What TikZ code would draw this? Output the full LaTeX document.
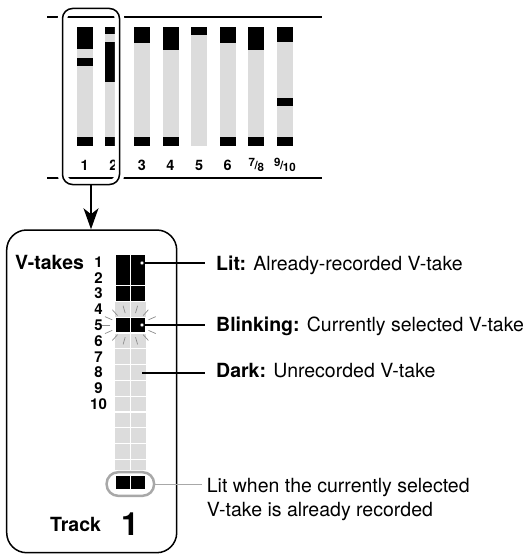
\documentclass[tikz,border=0pt]{standalone}
\usepackage{fontspec}
\setmainfont{TeX Gyre Heros}
\usetikzlibrary{arrows.meta}
\definecolor{ledgray}{HTML}{DCDCDC}
\definecolor{rimgray}{HTML}{A8A8A8}
\definecolor{raygray}{HTML}{8C8C8C}
\newcommand{\pairlbl}[2]{{\fontsize{11.5}{11.5}\selectfont\raisebox{3.4pt}{#1}\kern-0.4pt/\kern-0.4pt\raisebox{-2.2pt}{#2}}}
\tikzset{
  meterbar/.style={fill=ledgray},
  ledcell/.style={fill=black,draw=white,line width=1.2pt},
  tracknum/.style={font=\fontsize{14.4}{14.4}\selectfont\bfseries,inner sep=0pt},
  takenum/.style={font=\fontsize{15}{15}\selectfont\bfseries,inner sep=0pt},
  legend/.style={font=\fontsize{19.5}{24}\selectfont,inner ysep=0pt,inner xsep=11pt,anchor=base west},
  spot/.style={circle,fill=white,draw=black,line width=0.6pt,inner sep=0pt,minimum size=4pt},
  selbox/.style={draw,line width=1.5pt,rounded corners=10pt,inner sep=0pt,
    preaction={draw=white,line width=9.5pt}},
}
\begin{document}
\begin{tikzpicture}[x=1pt,y=-1pt]
\useasboundingbox (0,0) rectangle (531,559);
\pgfmathsetmacro{\lx}{115}
\pgfmathsetmacro{\lw}{15.35}
\pgfmathsetmacro{\ly}{254}
\pgfmathsetmacro{\rh}{15.8}
\draw[line width=1.3pt](47,17)--(322,17);
\draw[line width=1.3pt](47,178)--(322,178);
\foreach \i/\top/\ya/\yb/\bot in {1/49.3/57.7/65.7/1,2/34.3/41.7/81.7/1,3/42.7/0/0/1,4/50/0/0/1,5/34.7/0/0/0,6/42.7/0/0/1,7/50/0/0/1,8/41.7/97.7/105.7/1}{
  \pgfmathsetmacro{\xl}{76.7+28.6*(\i-1)}
  \fill[meterbar](\xl,27.3) rectangle ++(16,118.4);
  \fill(\xl,27.3) rectangle (\xl+16,\top);
  \ifdim\ya pt>0pt \fill(\xl,\ya) rectangle (\xl+16,\yb); \fi
  \ifnum\bot=1 \fill(\xl,137.3) rectangle (\xl+16,145.7); \fi
}
\foreach \i/\lab in {1/1,2/2,3/3,4/4,5/5,6/6,7/{\pairlbl{7}{8}},8/{\pairlbl{9}{10}}}
  \node[tracknum](tr\i) at (84.7+28.6*\i-28.6,165) {\lab};
\node[selbox,minimum width=57pt,minimum height=176pt](sel) at (91,96.5) {};
\node[draw,line width=1.5pt,rounded corners=20pt,inner sep=0pt,minimum width=170pt,minimum height=322.7pt](panel) at (91.7,391.35) {};
\draw[line width=1.5pt,-{Stealth[length=21pt,width=15pt,inset=6pt]}](sel.south)--(sel.south |- panel.north);
\node[anchor=base west,inner sep=0pt,font=\fontsize{19.5}{19.5}\selectfont\bfseries](vtakes) at (15,269) {V-takes};
\foreach \n in {1,...,10}
  \node[takenum](take\n) at (98.5,\ly+\n*\rh-0.5*\rh) {\n};
\fill[ledgray](\lx,\ly) rectangle (\lx+2*\lw,470);
\foreach \k in {2,...,13}
  \draw[white,line width=1.2pt](\lx,\ly+\k*\rh)--++(2*\lw,0);
\draw[white,line width=1.2pt](\lx+\lw,\ly)--(\lx+\lw,470);
\foreach \c in {0,1}{
  \draw[ledcell](\lx+\c*\lw,\ly) rectangle ++(\lw,2*\rh);
  \draw[ledcell](\lx+\c*\lw,\ly+2*\rh) rectangle ++(\lw,\rh);
  \draw[ledcell](\lx+\c*\lw,\ly+4*\rh) rectangle ++(\lw,\rh);
  \draw[ledcell](\lx+\c*\lw,475) rectangle ++(\lw,15);
}
\coordinate(blink) at (\lx+\lw,\ly+4.5*\rh);
\foreach \a in {0,25,50,75,105,130,155,180,205,230,255,285,310,335}
  \draw[raygray,line width=0.7pt]([shift={(\a:20 and 12.5)}]blink)--([shift={(\a:28 and 20)}]blink);
\node[draw=rimgray,line width=2.5pt,rounded corners=11.5pt,inner sep=0pt,minimum width=47.5pt,minimum height=23.6pt](recbox) at (130.35,484) {};
\node[anchor=base west,inner sep=0pt,font=\fontsize{19.5}{19.5}\selectfont\bfseries](track) at (50,531.7) {Track};
\node[anchor=base west,inner sep=0pt,font=\fontsize{32}{32}\selectfont\bfseries](tracknr) at (121,535) {1};
\node[legend](litlbl) at (205,270) {\textbf{Lit:} Already-recorded V-take};
\node[legend](blinklbl) at (205,331) {\textbf{Blinking:} Currently selected V-take};
\node[legend](darklbl) at (205,377) {\textbf{Dark:} Unrecorded V-take};
\node[font=\fontsize{19.5}{24}\selectfont,align=left,anchor=north west,inner ysep=0pt,inner xsep=4.7pt](notelbl) at (202,477.8) {Lit when the currently selected\\V-take is already recorded};
\coordinate(darkpt) at (142,373);
\draw[line width=1.2pt](darkpt)--(darkpt -| darklbl.west);
\node[spot](litpt) at (142,263) {};
\node[spot](blinkpt) at (142,325) {};
\draw[line width=1.2pt](litpt)--(litpt -| litlbl.west);
\draw[line width=1.2pt](blinkpt)--(blinkpt -| blinklbl.west);
\draw[rimgray,line width=1pt](recbox.east)--(recbox.east -| notelbl.west);
\end{tikzpicture}
\end{document}
